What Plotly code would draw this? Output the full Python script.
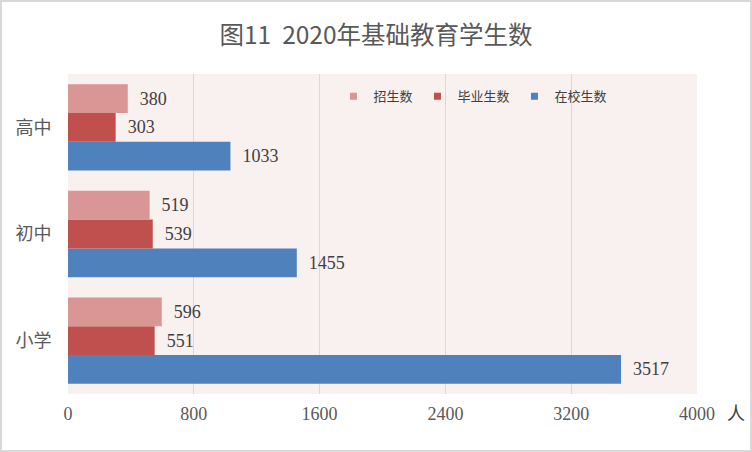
import plotly.graph_objects as go

# 2020年基础教育学生数（单位：人）
levels = ["小学", "初中", "高中"]
zhaosheng = [596, 519, 380]      # 招生数
biye = [551, 539, 303]           # 毕业生数
zaixiao = [3517, 1455, 1033]     # 在校生数
x_ticks = [0, 800, 1600, 2400, 3200, 4000]

series = [
    ("在校生数", zaixiao, "#4F81BD"),
    ("毕业生数", biye, "#C0504D"),
    ("招生数", zhaosheng, "#D99694"),
]

serif = "Liberation Serif, DejaVu Serif, serif"
cjk = "Noto Sans CJK SC, sans-serif"
num_font = dict(family=serif, size=18, color="#404040")

fig = go.Figure()
# bars (first trace sits at the bottom of each group)
for name, vals, color in series:
    fig.add_trace(go.Bar(
        y=levels, x=vals, orientation="h", name=name,
        marker=dict(color=color, line=dict(width=0)),
        text=vals, texttemplate="  %{x}", textposition="outside",
        textfont=num_font, cliponaxis=False, showlegend=False,
        hoverinfo="x+name",
    ))

# legend entries with small square keys
for name, vals, color in reversed(series):
    fig.add_trace(go.Scatter(
        x=[None], y=[None], mode="markers", name=name,
        marker=dict(symbol="square", size=7, color=color),
    ))

fig.update_layout(
    width=752, height=452,
    margin=dict(l=68, r=55, t=74, b=58),
    paper_bgcolor="white",
    plot_bgcolor="#F9F1F0",
    barmode="group", bargap=0.19, bargroupgap=0,
    title=dict(text="图11\u00a0\u00a02020年基础教育学生数", x=0.5, xanchor="center",
               y=0.922, yanchor="middle",
               font=dict(family=cjk, size=24.5, color="#595959")),
    legend=dict(orientation="h", x=0.422, xanchor="left", y=0.93, yanchor="middle",
                bgcolor="rgba(0,0,0,0)", font=dict(family=cjk, size=13, color="#404040"),
                itemwidth=30),
    xaxis=dict(range=[0, 4000], tickvals=x_ticks, showgrid=True, gridcolor="#D9D9D9",
               gridwidth=1, zeroline=False, showline=False,
               ticks="outside", ticklen=3, tickcolor="rgba(0,0,0,0)",
               tickfont=dict(family=serif, size=18, color="#595959")),
    yaxis=dict(showgrid=False, zeroline=False, showline=False,
               ticks="outside", ticklen=12, tickcolor="rgba(0,0,0,0)",
               tickfont=dict(family=cjk, size=18, color="#595959")),
    annotations=[dict(text="人", xref="paper", yref="paper", x=1.045, y=-0.055,
                      xanchor="left", yanchor="middle", showarrow=False,
                      font=dict(family=cjk, size=18, color="#404040"))],
    shapes=[dict(type="rect", xref="paper", yref="paper",
                 x0=(1 - 68) / 629, x1=(751 - 68) / 629,
                 y0=(394 - 451) / 320, y1=(394 - 1) / 320,
                 line=dict(color="#D9D9D9", width=2), layer="below")],
)

fig.write_html("out.html", config={"displayModeBar": False},
               post_script="document.body.style.margin='0';")
